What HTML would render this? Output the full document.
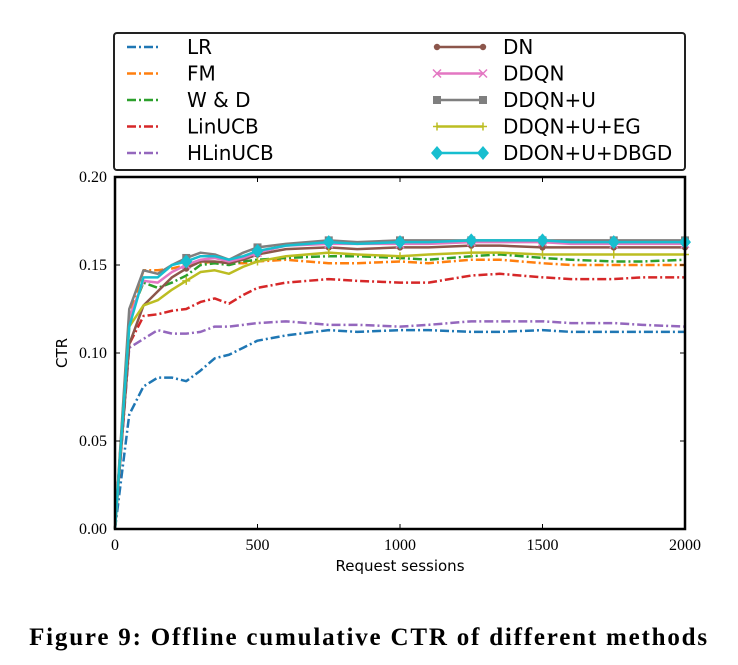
<!DOCTYPE html>
<html><head><meta charset="utf-8"><style>
body{margin:0;background:#fff;width:738px;height:665px;overflow:hidden}
svg{display:block}
</style></head><body>
<svg id="chart" width="738" height="665" xmlns="http://www.w3.org/2000/svg">
<g id="legend"></g>
<g id="series"></g>
<g id="axes"></g>
<text x="369" y="645" text-anchor="middle" font-family="Liberation Serif, serif" font-weight="bold" font-size="25" letter-spacing="1.8">Figure 9: Offline cumulative CTR of different methods</text>
</svg>
<script>
const xs=[0,50,100,150,200,250,300,350,400,450,500,600,750,850,1000,1100,1250,1350,1500,1600,1750,1850,2000];
const lr=[0,0.065,0.081,0.086,0.086,0.084,0.090,0.097,0.099,0.103,0.107,0.110,0.113,0.112,0.113,0.113,0.112,0.112,0.113,0.112,0.112,0.112,0.112];
const fm=[0,0.12,0.147,0.147,0.148,0.150,0.151,0.152,0.151,0.151,0.152,0.153,0.151,0.151,0.152,0.151,0.153,0.153,0.151,0.150,0.150,0.150,0.150];
const wd=[0,0.12,0.140,0.137,0.140,0.144,0.150,0.151,0.150,0.152,0.153,0.154,0.155,0.155,0.154,0.153,0.155,0.156,0.154,0.153,0.152,0.152,0.153];
const linucb=[0,0.105,0.121,0.122,0.124,0.125,0.129,0.131,0.128,0.133,0.137,0.140,0.142,0.141,0.140,0.140,0.144,0.145,0.143,0.142,0.142,0.143,0.143];
const hlinucb=[0,0.103,0.108,0.113,0.111,0.111,0.112,0.115,0.115,0.116,0.117,0.118,0.116,0.116,0.115,0.116,0.118,0.118,0.118,0.117,0.117,0.116,0.115];
const dn=[0,0.105,0.127,0.135,0.143,0.148,0.152,0.152,0.151,0.153,0.156,0.159,0.160,0.159,0.160,0.160,0.161,0.161,0.160,0.160,0.160,0.160,0.160];
const ddqn=[0,0.12,0.141,0.140,0.146,0.150,0.153,0.154,0.152,0.154,0.157,0.161,0.162,0.162,0.162,0.162,0.163,0.163,0.163,0.162,0.162,0.162,0.162];
const ddqnU=[0,0.125,0.147,0.145,0.150,0.154,0.157,0.156,0.153,0.157,0.160,0.162,0.164,0.163,0.164,0.164,0.164,0.164,0.164,0.164,0.164,0.164,0.164];
const ddqnUEG=[0,0.115,0.127,0.130,0.136,0.141,0.146,0.147,0.145,0.149,0.152,0.155,0.157,0.156,0.155,0.156,0.157,0.157,0.156,0.156,0.156,0.156,0.156];
const dbgd=[0,0.115,0.143,0.143,0.150,0.152,0.155,0.155,0.153,0.155,0.158,0.161,0.163,0.162,0.163,0.163,0.164,0.164,0.164,0.163,0.163,0.163,0.163];
const xTicks=[0,500,1000,1500,2000];
const yTicks=["0.00","0.05","0.10","0.15","0.20"];
const X0=115,X1=685,Y0=529,Y1=177;
const sx=v=>X0+(v/2000)*(X1-X0);
const sy=v=>Y0-(v/0.2)*(Y0-Y1);
const NS="http://www.w3.org/2000/svg";
function mk(t,a,p){const e=document.createElementNS(NS,t);for(const k in a)e.setAttribute(k,a[k]);p.appendChild(e);return e;}
const S=document.getElementById('series'),A=document.getElementById('axes'),L=document.getElementById('legend');
const series=[
 {n:'LR',d:lr,c:'#1f77b4',dash:'9,3,2,3',m:null},
 {n:'FM',d:fm,c:'#ff7f0e',dash:'9,3,2,3',m:null},
 {n:'W & D',d:wd,c:'#2ca02c',dash:'9,3,2,3',m:null},
 {n:'LinUCB',d:linucb,c:'#d62728',dash:'9,3,2,3',m:null},
 {n:'HLinUCB',d:hlinucb,c:'#9467bd',dash:'9,3,2,3',m:null},
 {n:'DN',d:dn,c:'#8c564b',dash:null,m:'circle'},
 {n:'DDQN',d:ddqn,c:'#e377c2',dash:null,m:'x'},
 {n:'DDQN+U',d:ddqnU,c:'#7f7f7f',dash:null,m:'square'},
 {n:'DDQN+U+EG',d:ddqnUEG,c:'#bcbd22',dash:null,m:'plus'},
 {n:'DDQN+U+DBGD',d:dbgd,c:'#17becf',dash:null,m:'diamond'}];
function marker(type,x,y,c,p,sz){
 let e;
 if(type==='circle')e=mk('circle',{cx:x,cy:y,r:sz*0.8,fill:c},p);
 else if(type==='square')e=mk('rect',{x:x-sz,y:y-sz,width:2*sz,height:2*sz,fill:c},p);
 else if(type==='diamond')e=mk('polygon',{points:`${x},${y-sz*1.4} ${x+sz*1.2},${y} ${x},${y+sz*1.4} ${x-sz*1.2},${y}`,fill:c},p);
 else if(type==='x')e=mk('path',{d:`M${x-sz} ${y-sz}L${x+sz} ${y+sz}M${x-sz} ${y+sz}L${x+sz} ${y-sz}`,stroke:c,'stroke-width':1.5},p);
 else e=mk('path',{d:`M${x-sz} ${y}L${x+sz} ${y}M${x} ${y-sz}L${x} ${y+sz}`,stroke:c,'stroke-width':1.5},p);
 
 
}
series.forEach((s,i)=>{
 const pts=xs.map((x,j)=>sx(x)+','+sy(s.d[j])).join(' ');
 const pl=mk('polyline',{points:pts,fill:'none',stroke:s.c,'stroke-width':2.5,'stroke-linejoin':'round'},S);
 if(s.dash)pl.setAttribute('stroke-dasharray',s.dash);
 
 
 if(s.m){xs.forEach((x,j)=>{if(x>0&&x%250===0)marker(s.m,sx(x),sy(s.d[j]),s.c,S,s.m==='diamond'?5:4);});}
 const col=i<5?0:1,row=i%5;
 const ly=47+row*26.5;
 const lx0=col?437:127,lx1=col?483:160,tx=col?503:187;
 const ll=mk('line',{x1:lx0,y1:ly,x2:lx1,y2:ly,stroke:s.c,'stroke-width':2.5},L);
 if(s.dash)ll.setAttribute('stroke-dasharray','9,3,2,3');
 
 
 if(s.m){marker(s.m,lx0,ly,s.c,L,s.m==='diamond'?5:4);marker(s.m,lx1,ly,s.c,L,s.m==='diamond'?5:4);}
 const t=mk('text',{x:tx,y:ly+7,'font-family':'DejaVu Sans, sans-serif','font-size':20,fill:'#000'},L);
 t.textContent=s.n;
 
 
});
const box=mk('rect',{x:114,y:33,width:571,height:137,rx:3,fill:'none',stroke:'#222','stroke-width':2},L);


const cover=mk('rect',{x:116,y:160,width:567,height:9,fill:'#fff'},L);


const fr=mk('rect',{x:X0,y:Y1,width:X1-X0,height:Y0-Y1,fill:'none',stroke:'#000','stroke-width':2.5},A);


xTicks.forEach(v=>{
 const x=sx(v);
 const tk=mk('path',{d:`M${x} ${Y0}V${Y0-5}M${x} ${Y1}V${Y1+5}`,stroke:'#000','stroke-width':1},A);
 
 
 const t=mk('text',{x:x,y:Y0+21,'text-anchor':'middle','font-family':'Liberation Serif, serif','font-size':16,fill:'#000'},A);
 t.textContent=v;
 
 
});
yTicks.forEach(v=>{
 const y=sy(parseFloat(v));
 const tk=mk('path',{d:`M${X0} ${y}H${X0+5}M${X1} ${y}H${X1-5}`,stroke:'#000','stroke-width':1},A);
 
 
 const t=mk('text',{x:X0-8,y:y+5,'text-anchor':'end','font-family':'Liberation Serif, serif','font-size':16,fill:'#000'},A);
 t.textContent=v;
 
 
});
const xt=mk('text',{x:400,y:571,'text-anchor':'middle','font-family':'DejaVu Sans, sans-serif','font-size':15,fill:'#000'},A);
xt.textContent='Request sessions';


const yt=mk('text',{x:0,y:0,transform:'translate(67,353) rotate(-90)','text-anchor':'middle','font-family':'DejaVu Sans, sans-serif','font-size':15,fill:'#000'},A);
yt.textContent='CTR';


</script>
</body></html>
